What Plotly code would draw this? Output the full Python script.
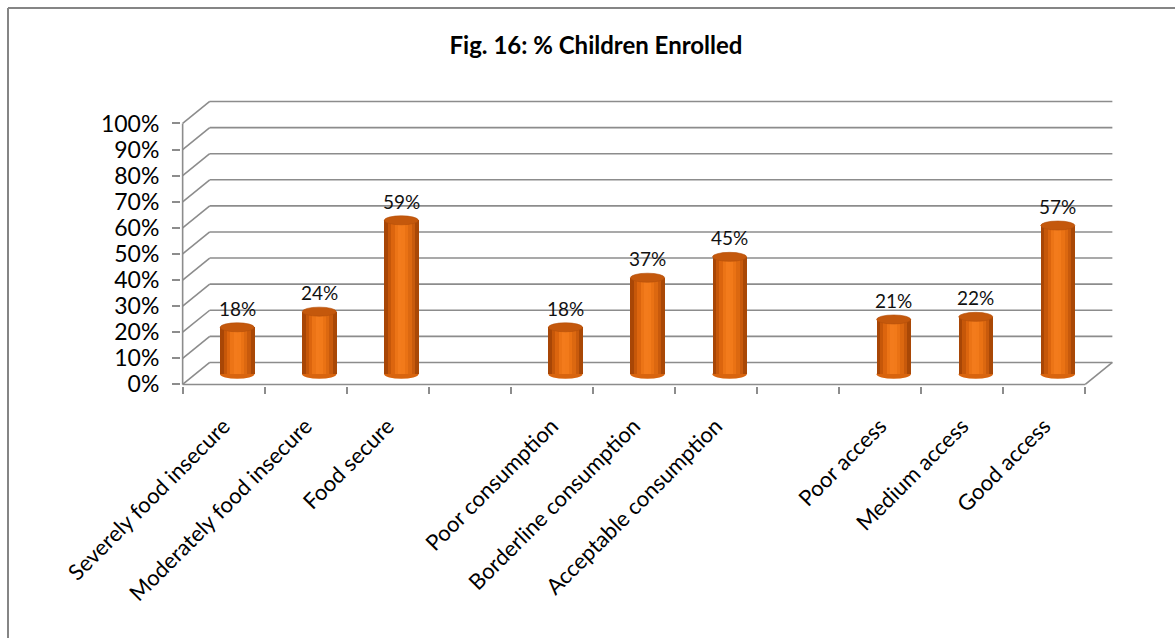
import plotly.graph_objects as go

# ---- data ----
categories = ["Severely food insecure", "Moderately food insecure", "Food secure", " ",
              "Poor consumption", "Borderline consumption", "Acceptable consumption", "  ",
              "Poor access", "Medium access", "Good access"]
values = [18, 24, 59, None, 18, 37, 45, None, 21, 22, 57]
ytick_vals = [0, 10, 20, 30, 40, 50, 60, 70, 80, 90, 100]
ytick_text = [f"{v}%" for v in ytick_vals]
title_text = "Fig. 16: % Children Enrolled"

# ---- layout geometry ----
W, H = 1175, 638
ML, MR, MT, MB = 181, 61, 100, 252
XR = [-0.52, 10.85]
YR = [-0.6, 109.0]
DXB, DYB = 0.33, 8.43        # back wall offset (category units, % units)
DXM, BASE = 0.165, 3.9       # bar depth offset
BW = 0.415                   # bar width
CAP = 3.45                   # cap ellipse height in % units
GRID = "#8c8c8c"
FONT = "Lato, 'Open Sans', sans-serif"

n = len(categories)
fig = go.Figure()

# cylinder body: vertical strips for shading
strip_colors = ["#A84606", "#C65709", "#DC650E", "#EC7416", "#F37B1C", "#F27A1A",
                "#EA7214", "#DC6810", "#C85A0C", "#A94806"]
ns = len(strip_colors)
sw = BW / ns
for k, c in enumerate(strip_colors):
    fig.add_trace(go.Bar(
        x=categories, y=values, base=BASE,
        width=sw + 0.006, offset=DXM - BW / 2 + k * sw,
        marker=dict(color=c, line=dict(width=0)),
        showlegend=False, hoverinfo="skip"))

shapes = []
# back wall gridlines + left wall diagonals
for v in ytick_vals:
    shapes.append(dict(type="line", xref="x", yref="y", layer="below",
                       x0=-0.5, y0=v, x1=-0.5 + DXB, y1=v + DYB,
                       line=dict(color=GRID, width=1.6)))
    shapes.append(dict(type="line", xref="x", yref="y", layer="below",
                       x0=-0.5 + DXB, y0=v + DYB, x1=n - 0.5 + DXB, y1=v + DYB,
                       line=dict(color=GRID, width=1.6)))
# floor right diagonal
shapes.append(dict(type="line", xref="x", yref="y", layer="below",
                   x0=n - 0.5, y0=0, x1=n - 0.5 + DXB, y1=DYB,
                   line=dict(color=GRID, width=1.6)))
# front axes
shapes.append(dict(type="line", xref="x", yref="y", layer="below",
                   x0=-0.5, y0=0, x1=n - 0.5, y1=0, line=dict(color=GRID, width=1.6)))
shapes.append(dict(type="line", xref="x", yref="y", layer="below",
                   x0=-0.5, y0=0, x1=-0.5, y1=100, line=dict(color=GRID, width=1.6)))

annotations = []
for i, v in enumerate(values):
    if v is None:
        continue
    xc = i + DXM
    x0, x1 = xc - BW / 2, xc + BW / 2
    # bottom cap (below body)
    shapes.append(dict(type="circle", xref="x", yref="y", layer="below",
                       x0=x0, x1=x1, y0=BASE - CAP / 2, y1=BASE + CAP / 2,
                       fillcolor="#D8640E", line=dict(width=0)))
    # top cap
    top = BASE + v
    shapes.append(dict(type="circle", xref="x", yref="y", layer="above",
                       x0=x0, x1=x1, y0=top - CAP / 2, y1=top + CAP / 2,
                       fillcolor="#C4580C", line=dict(color="#B34F0A", width=0.6)))
    annotations.append(dict(x=xc, y=top + 7.3, xref="x", yref="y",
                            text=f"{v}%", showarrow=False, yanchor="middle",
                            font=dict(family=FONT, size=19, color="#111111")))

# chart frame (top and left border)
pw, ph = W - ML - MR, H - MT - MB
def px(x):
    return (x - ML) / pw
def py(y):
    return (H - MB - y) / ph
shapes.append(dict(type="line", xref="paper", yref="paper",
                   x0=px(8), y0=py(8), x1=px(W + 5), y1=py(8),
                   line=dict(color="#858585", width=2)))
shapes.append(dict(type="line", xref="paper", yref="paper",
                   x0=px(8), y0=py(8), x1=px(8), y1=py(H + 5),
                   line=dict(color="#858585", width=2)))

fig.update_layout(
    width=W, height=H, autosize=False,
    margin=dict(l=ML, r=MR, t=MT, b=MB, pad=0),
    paper_bgcolor="white", plot_bgcolor="white",
    barmode="overlay", bargap=0,
    shapes=shapes, annotations=annotations,
    title=dict(text=f"<b>{title_text}</b>", xref="container", yref="container",
               x=596 / W, y=1 - 46 / H, xanchor="center", yanchor="middle",
               font=dict(family=FONT, size=24, color="black")),
    xaxis=dict(type="category", categoryarray=categories, categoryorder="array",
               range=XR, showgrid=False, zeroline=False, showline=False,
               tickson="boundaries", ticks="outside", ticklen=7, tickwidth=1.5,
               tickcolor=GRID, tickangle=-45, ticklabelstandoff=22,
               tickfont=dict(family=FONT, size=22, color="black")),
    yaxis=dict(range=YR, showgrid=False, zeroline=False, showline=False,
               tickmode="array", tickvals=ytick_vals, ticktext=ytick_text,
               ticks="outside", ticklen=8, tickwidth=1.5, tickcolor=GRID,
               ticklabelstandoff=8,
               tickfont=dict(family=FONT, size=23, color="black")),
)

fig.write_html("out.html")
